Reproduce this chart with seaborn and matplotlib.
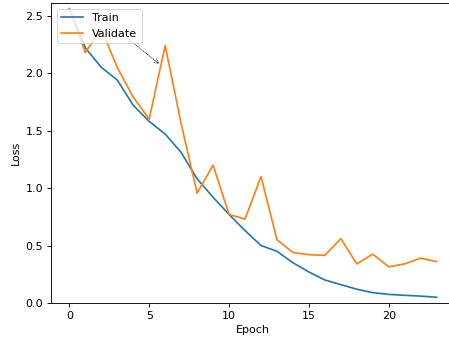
import matplotlib
matplotlib.use("Agg")
import matplotlib.pyplot as plt
import seaborn as sns
import pandas as pd

epochs = list(range(24))
train_loss = [2.56, 2.22, 2.05, 1.94, 1.72, 1.58, 1.47, 1.31, 1.08, 0.92, 0.77, 0.63,
              0.50, 0.45, 0.35, 0.27, 0.20, 0.16, 0.12, 0.09, 0.075, 0.067, 0.06, 0.05]
val_loss = [2.56, 2.18, 2.38, 2.05, 1.79, 1.60, 2.24, 1.56, 0.955, 1.20, 0.77, 0.73,
            1.10, 0.55, 0.44, 0.42, 0.415, 0.56, 0.34, 0.425, 0.315, 0.34, 0.39, 0.36]
series_names = ["Train", "Validate"]

df = pd.DataFrame({
    "Epoch": epochs * 2,
    "Loss": train_loss + val_loss,
    "Series": [series_names[0]] * len(epochs) + [series_names[1]] * len(epochs),
})

scale = 1.15
plt.rcParams.update({
    "font.size": 10 * scale,
    "xtick.major.size": 3.5 * scale,
    "ytick.major.size": 3.5 * scale,
    "xtick.major.width": 0.8 * scale,
    "ytick.major.width": 0.8 * scale,
    "xtick.major.pad": 3.5 * scale,
    "ytick.major.pad": 3.5 * scale,
    "axes.labelpad": 4.0 * scale,
    "axes.linewidth": 0.8 * scale,
})

fig = plt.figure(figsize=(449 / 70, 343 / 70), dpi=70)
ax = fig.add_axes([51 / 449, 1 - 303 / 343, 404 / 449, 300 / 343])

sns.lineplot(data=df, x="Epoch", y="Loss", hue="Series",
             palette=["#1f77b4", "#ff7f0e"], linewidth=1.5 * scale, ax=ax)

ax.annotate("", xy=(5.72, 2.07), xytext=(3.56, 2.31),
            arrowprops=dict(arrowstyle="->", linestyle=":", color="black", lw=0.7))

ax.set_ylim(0, 2.61)
ax.set_xlim(-1.15, 24.15)
ax.set_xticks([0, 5, 10, 15, 20])
ax.set_yticks([0.0, 0.5, 1.0, 1.5, 2.0, 2.5])
ax.set_xlabel("Epoch")
ax.set_ylabel("Loss")
leg = ax.legend(loc="upper left", title=None)

fig.savefig("out.png", dpi=70)
